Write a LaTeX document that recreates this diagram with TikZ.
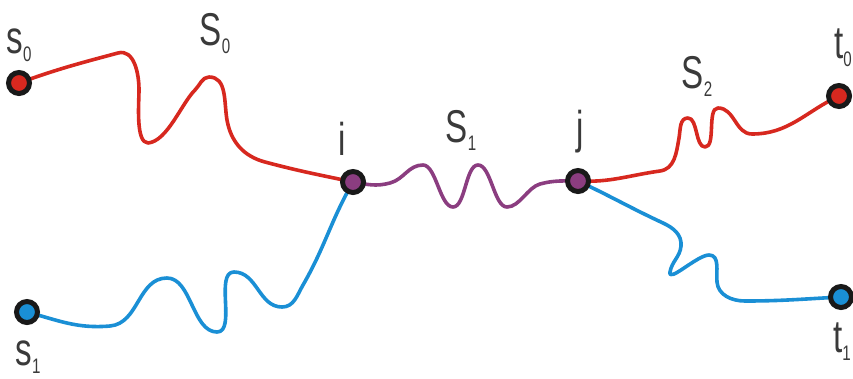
\documentclass[tikz,border=0pt]{standalone}
\usepackage{fontspec}
\setmainfont[FakeStretch=0.72]{Liberation Sans}
\usepackage{xcolor}
\usepackage{tikz}
\usetikzlibrary{backgrounds}

\definecolor{pathred}{HTML}{D7281F}
\definecolor{pathblue}{HTML}{1A8FD5}
\definecolor{pathpurple}{HTML}{8B3D80}
\definecolor{textgray}{HTML}{3A3A3A}
\newcommand{\lsub}[1]{\raisebox{-8pt}{\fontsize{21}{21}\selectfont #1}}

\begin{document}
\begin{tikzpicture}[
  x=1pt,y=-1pt,
  vertex/.style={circle,draw=black!90,line width=5pt,minimum size=21pt,inner sep=0pt},
  lbl/.style={text=textgray,font=\fontsize{46}{46}\selectfont,inner sep=0pt,anchor=base},
  walk/.style={line width=3.6pt,line cap=round,line join=round}
]
\useasboundingbox (0,0) rectangle (853,378);

\node[vertex,fill=pathred] (s0) at (19,83) {};
\node[vertex,fill=pathblue] (s1) at (27,312) {};
\node[vertex,fill=pathpurple] (i) at (353,182) {};
\node[vertex,fill=pathpurple] (j) at (578,181) {};
\node[vertex,fill=pathred] (t0) at (839,96) {};
\node[vertex,fill=pathblue] (t1) at (841,297) {};

\node[lbl] (ls0) at (19,53) {s\lsub{0}};
\node[lbl] (ls1) at (28,365) {s\lsub{1}};
\node[lbl] (li) at (342,155) {i};
\node[lbl] (lj) at (580,143) {j};
\node[lbl] (lt0) at (843,58) {t\lsub{0}};
\node[lbl] (lt1) at (842,352) {t\lsub{1}};
\node[lbl] (lS0) at (215,45) {S\lsub{0}};
\node[lbl] (lS1) at (461,142) {S\lsub{1}};
\node[lbl] (lS2) at (697,88) {S\lsub{2}};

\begin{scope}[on background layer]
% red walk s0 -- i
\draw[walk,pathred] (s0.center) to[out=20,in=195] (118,53) to[out=15,in=90] (139,90)
  to[out=-90,in=180,looseness=0.6] (148,143) to[out=5,in=225,looseness=0.7] (195,90)
  to[out=45,in=180,looseness=0.9] (209,77) to[out=0,in=100] (227,120)
  to[out=-80,in=165] (265,162) to[out=-15,in=168] (i.center);
% shared part i -- j
\draw[walk,pathpurple] (i.center) to[out=-10,in=195] (390,183) to[out=15,in=180] (423,165)
  to[out=0,in=180,looseness=0.65] (453,207) to[out=0,in=180,looseness=0.65] (478,165)
  to[out=0,in=180,looseness=0.65] (507,207)
  to[out=0,in=195,looseness=0.8] (540,184) to[out=15,in=180] (j.center);
% red walk j -- t0
\draw[walk,pathred] (j.center) to[out=-3,in=188] (660,171) to[out=8,in=-100] (679,138)
  to[out=80,in=180] (688,118) to[out=0,in=180,looseness=0.75] (705,147)
  to[out=0,in=180,looseness=0.7] (718,108) to[out=0,in=180] (752,134)
  to[out=0,in=205] (t0.center);
% blue walk s1 -- i
\draw[walk,pathblue] (s1.center) to[out=-15,in=185] (110,326) to[out=5,in=180] (167,278)
  to[out=0,in=180,looseness=0.85] (217,332) to[out=0,in=180,looseness=0.8] (234,272)
  to[out=0,in=180] (282,307) to[out=0,in=240] (303,285) to[out=60,in=240] (i.center);
% blue walk j -- t1
\draw[walk,pathblue] (j.center) to[out=-25,in=155] (663,223) to[out=-25,in=85] (681,246)
  to[out=-95,in=80] (670,272) to[out=-100,in=180,looseness=0.7] (709,255)
  to[out=0,in=95] (717,282) to[out=-85,in=180] (745,301) to[out=0,in=183] (t1.center);
\end{scope}
\end{tikzpicture}
\end{document}
